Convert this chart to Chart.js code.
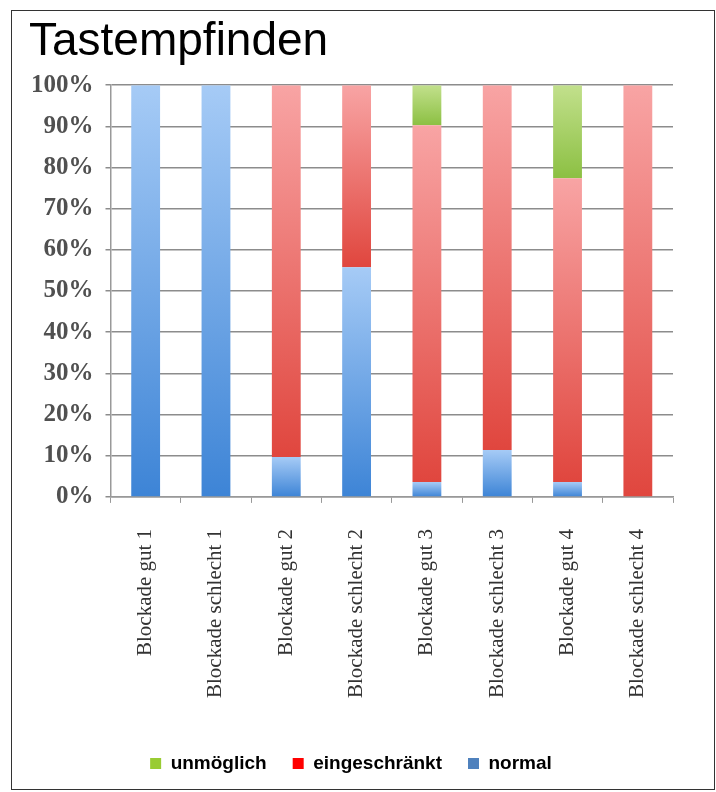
<!DOCTYPE html>
<html lang="de">
  <head>
    <meta charset="UTF-8" />
    <title>Tastempfinden</title>
    <script src="https://cdn.jsdelivr.net/npm/chart.js@4.4.0/dist/chart.umd.min.js"></script>
    <style>
      body {
        margin: 0;
        background: #ffffff;
      }
      .frame {
        position: absolute;
        left: 11px;
        top: 10px;
        width: 702px;
        height: 778px;
        border: 1.5px solid #333;
        background: #fff;
      }
    </style>
  </head>
  <body>
    <div class="frame">
      <canvas id="chart" width="702" height="778"></canvas>
    </div>
    <script>
      const categories = [
        "Blockade gut 1",
        "Blockade schlecht 1",
        "Blockade gut 2",
        "Blockade schlecht 2",
        "Blockade gut 3",
        "Blockade schlecht 3",
        "Blockade gut 4",
        "Blockade schlecht 4",
      ];
      const normal = [100, 100, 9.7, 55.8, 3.6, 11.4, 3.6, 0];
      const eingeschraenkt = [0, 0, 90.3, 44.2, 86.7, 88.6, 73.8, 100];
      const unmoeglich = [0, 0, 0, 0, 9.7, 0, 22.6, 0];
      const yTicks = [0, 10, 20, 30, 40, 50, 60, 70, 80, 90, 100];

      const series = [normal, eingeschraenkt, unmoeglich];
      const gradStops = [
        ["#a6cbf6", "#3d84d6"],
        ["#f8a4a4", "#e0463e"],
        ["#c2e08c", "#8cc043"],
      ];
      const legendColors = ["#4f81bd", "#ff0000", "#99cc33"];

      // gradient for each stacked segment, light on top, dark at bottom
      function segmentFill(ctx) {
        const chart = ctx.chart;
        const d = ctx.datasetIndex;
        if (!chart.chartArea || ctx.dataIndex === undefined) {
          return gradStops[d][1];
        }
        const i = ctx.dataIndex;
        let start = 0;
        for (let k = 0; k < d; k++) start += series[k][i];
        const end = start + series[d][i];
        const y = chart.scales.y;
        const top = y.getPixelForValue(end);
        const bottom = y.getPixelForValue(start);
        if (!(bottom > top)) return gradStops[d][1];
        const g = chart.ctx.createLinearGradient(0, top, 0, bottom);
        g.addColorStop(0, gradStops[d][0]);
        g.addColorStop(1, gradStops[d][1]);
        return g;
      }

      const ctx = document.getElementById("chart").getContext("2d");
      new Chart(ctx, {
        type: "bar",
        data: {
          labels: categories,
          datasets: [
            { label: "normal", data: normal, backgroundColor: segmentFill },
            { label: "eingeschränkt", data: eingeschraenkt, backgroundColor: segmentFill },
            { label: "unmöglich", data: unmoeglich, backgroundColor: segmentFill },
          ],
        },
        options: {
          responsive: false,
          animation: false,
          layout: { padding: { left: 17, right: 41, top: 0, bottom: 6 } },
          datasets: {
            bar: { categoryPercentage: 1, barPercentage: 0.41, borderWidth: 0 },
          },
          plugins: {
            title: {
              display: true,
              text: "Tastempfinden",
              align: "start",
              color: "#000",
              font: { family: "Liberation Sans, Arial", size: 46, weight: "normal" },
              padding: { top: 4, bottom: 15 },
            },
            legend: {
              position: "bottom",
              reverse: true,
              labels: {
                boxWidth: 11,
                boxHeight: 11,
                padding: 26,
                color: "#000",
                font: { family: "Liberation Sans, Arial", size: 19, weight: "bold" },
                generateLabels: (chart) =>
                  Chart.defaults.plugins.legend.labels
                    .generateLabels(chart)
                    .map((l) => ({
                      ...l,
                      fillStyle: legendColors[l.datasetIndex],
                      strokeStyle: legendColors[l.datasetIndex],
                      lineWidth: 0,
                    })),
              },
            },
            tooltip: { enabled: false },
          },
          scales: {
            x: {
              stacked: true,
              afterFit: (axis) => {
                axis.height += 4;
              },
              grid: {
                offset: true,
                drawOnChartArea: false,
                color: "#999",
                tickLength: 6,
              },
              border: { color: "#999", width: 1.5 },
              ticks: {
                minRotation: 90,
                maxRotation: 90,
                padding: 26,
                color: "#333",
                font: { family: "Liberation Serif", size: 21 },
              },
            },
            y: {
              stacked: true,
              min: 0,
              max: 100,
              afterBuildTicks: (axis) => {
                axis.ticks = yTicks.map((v) => ({ value: v }));
              },
              afterFit: (axis) => {
                axis.width -= 10;
              },
              grid: { color: "#8c8c8c", lineWidth: 1.5, tickLength: 5 },
              border: { color: "#999", width: 1.5 },
              ticks: {
                padding: 12,
                color: "#505050",
                font: { family: "Liberation Serif", size: 25, weight: "bold" },
                callback: (v) => v + "%",
              },
            },
          },
        },
      });
    </script>
  </body>
</html>
